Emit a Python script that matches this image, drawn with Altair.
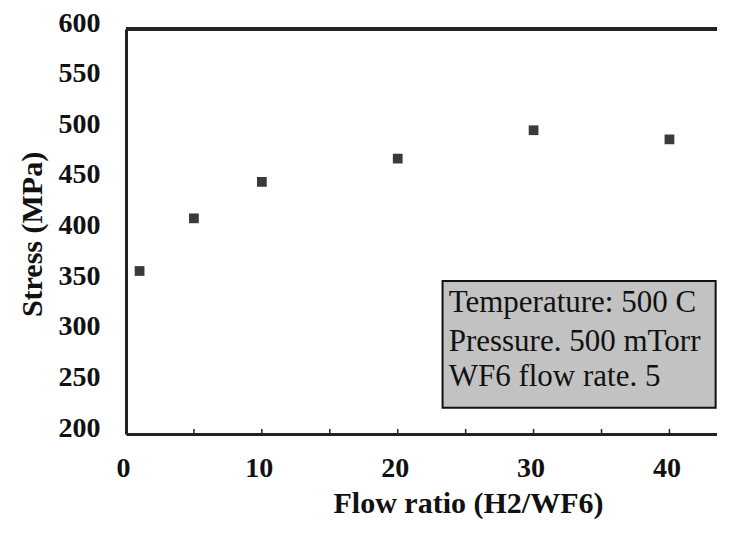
import altair as alt
import pandas as pd

# Data
flow_ratio = [1, 5, 10, 20, 30, 40]
stress_mpa = [361, 413, 449, 472, 500, 491]

x_ticks = [0, 10, 20, 30, 40]
minor_ticks = [0, 5, 10, 15, 20, 25, 30, 35, 40]
y_ticks = [200, 250, 300, 350, 400, 450, 500, 550, 600]

note_lines = ["Temperature: 500 C", "Pressure. 500 mTorr", "WF6 flow rate. 5"]
note_line_y = [329, 291, 256]
note_box = {"x": 23.3, "x2": 43.4, "y": 351, "y2": 226}
note_text_x = 23.75

FONT = "Times New Roman, Liberation Serif, serif"
X_DOMAIN = [0, 43.5]
Y_DOMAIN = [200, 600]

pts = pd.DataFrame({"ratio": flow_ratio, "stress": stress_mpa})
ticks_df = pd.DataFrame({"t": minor_ticks, "y0": [200] * len(minor_ticks), "y1": [205] * len(minor_ticks)})
note_df = pd.DataFrame({"label": note_lines, "y": note_line_y, "x": [note_text_x] * len(note_lines)})
box_df = pd.DataFrame([note_box])

xs = alt.Scale(domain=X_DOMAIN, nice=False, zero=False)
ys = alt.Scale(domain=Y_DOMAIN, nice=False, zero=False)

x_axis = alt.Axis(
    values=x_ticks, title="Flow ratio (H2/WF6)", ticks=False, tickSize=0, grid=False,
    domainColor="#222", domainWidth=3, labelPadding=20, labelOffset=-3, labelFlush=False,
    labelFont=FONT, labelFontSize=28, labelFontWeight="bold", labelColor="#111",
    titleFont=FONT, titleFontSize=30, titleFontWeight="bold", titleColor="#111",
    titleX=342, titleY=69, titleBaseline="middle", titleAlign="center",
)
y_axis = alt.Axis(
    values=y_ticks, title="Stress (MPa)", ticks=False, tickSize=0, grid=False,
    domainColor="#222", domainWidth=3, labelPadding=26, labelOffset=-6, labelFlush=False,
    labelFont=FONT, labelFontSize=28, labelFontWeight="bold", labelColor="#111",
    titleFont=FONT, titleFontSize=30, titleFontWeight="bold", titleColor="#111",
    titleX=-94, titleY=205, titleBaseline="middle", titleAlign="center", titleAngle=-90,
)

points = alt.Chart(pts).mark_square(size=95, color="#3a3a3a", opacity=1).encode(
    x=alt.X("ratio:Q", scale=xs, axis=x_axis),
    y=alt.Y("stress:Q", scale=ys, axis=y_axis),
)

top_line = alt.Chart(pts).mark_rule(color="#222", strokeWidth=3).encode(
    y=alt.datum(600, scale=ys)
)

inner_ticks = alt.Chart(ticks_df).mark_rule(color="#222", strokeWidth=1.5).encode(
    x=alt.X("t:Q", scale=xs), y=alt.Y("y0:Q", scale=ys), y2="y1:Q"
)

box = alt.Chart(box_df).mark_rect(fill="#c2c2c2", stroke="#111", strokeWidth=2).encode(
    x=alt.X("x:Q", scale=xs), x2="x2:Q", y=alt.Y("y:Q", scale=ys), y2="y2:Q"
)

note = alt.Chart(note_df).mark_text(
    font=FONT, fontSize=31, align="left", baseline="middle", color="#111"
).encode(
    x=alt.X("x:Q", scale=xs), y=alt.Y("y:Q", scale=ys), text="label:N"
)

chart = alt.layer(box, note, top_line, inner_ticks, points).properties(
    width=591, height=405,
    autosize=alt.AutoSizeParams(type="none"),
    padding={"left": 118, "top": 21, "right": 0, "bottom": 90},
).configure_view(strokeWidth=0).configure(background="white")

chart.save("out.html", embed_options={"renderer": "svg", "actions": False})
